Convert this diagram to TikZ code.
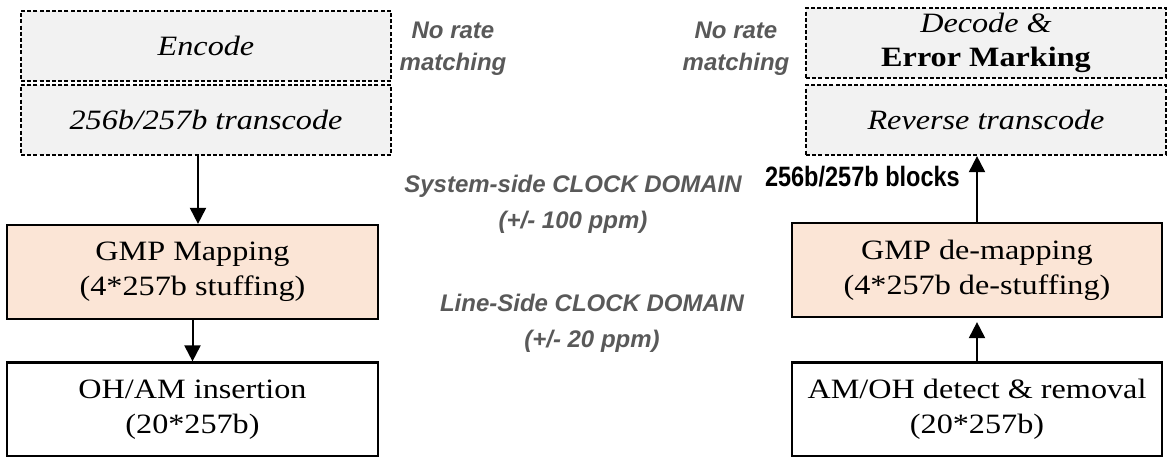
\documentclass[tikz,border=0pt]{standalone}
\usepackage{fontspec}
\setmainfont{Liberation Serif}[FakeStretch=1.15]
\newfontfamily\grayfont{Liberation Sans}
\newfontfamily\narrowfont{Liberation Sans}[FakeStretch=0.84]
\usetikzlibrary{arrows.meta}
\definecolor{boxgray}{RGB}{242,242,242}
\definecolor{peach}{RGB}{251,229,214}
\definecolor{txtgray}{RGB}{89,89,89}
\begin{document}
\begin{tikzpicture}[x=1pt,y=-1pt,
  dashbox/.style={draw=black, fill=boxgray, line width=2.2pt, dash pattern=on 4pt off 2.2pt, minimum width=370pt, minimum height=70pt, inner sep=0pt, align=center, font=\fontsize{28}{34}\selectfont\itshape},
  solidbox/.style={draw=black, line width=2.2pt, minimum width=371pt, minimum height=94pt, inner sep=0pt, align=center, font=\fontsize{28}{35}\selectfont},
  arr/.style={line width=2pt, -{Triangle[length=16pt,width=16pt]}},
  note/.style={text=txtgray, align=center, inner sep=0pt, font=\grayfont\bfseries\itshape\fontsize{24}{32}\selectfont}
]
\useasboundingbox (0,0) rectangle (1167,457);
% left column
\node[dashbox] (enc) at (206,46) {Encode};
\node[dashbox] (tr) at (206,120) {256b/257b transcode};
\node[solidbox, fill=peach] (gmp) at (192.5,272) {GMP Mapping\\(4*257b stuffing)};
\node[solidbox, fill=white] (oh) at (192.5,409.5) {OH/AM insertion\\(20*257b)};
% right column
\node[dashbox, minimum width=360pt] (dec) at (986,43) {Decode \&\\\textbf{\upshape Error Marking}};
\node[dashbox, minimum width=360pt] (rtr) at (986,120) {Reverse transcode};
\node[solidbox, minimum width=370pt, fill=peach] (gmpd) at (977,270) {GMP de-mapping\\(4*257b de-stuffing)};
\node[solidbox, minimum width=370pt, fill=white] (amoh) at (977,409.5) {AM/OH detect \& removal\\(20*257b)};
% arrows
\coordinate (a1) at ([xshift=-8pt]tr.south);
\draw[arr] (a1) -- (a1 |- gmp.north);
\draw[arr] (gmp.south) -- (oh.north);
\draw[arr, shorten >=4pt] (amoh.north) -- (gmpd.south);
\draw[arr] (gmpd.north) -- (gmpd.north |- rtr.south);
% labels
\node[anchor=east, inner sep=0pt, font=\narrowfont\bfseries\fontsize{28}{30}\selectfont] (lbl) at (960,177) {256b/257b blocks};
\node[note] (nr1) at (453,49) {No rate\\matching};
\node[note] (nr2) at (736,49) {No rate\\matching};
\node[note, font=\grayfont\bfseries\itshape\fontsize{24}{36}\selectfont] (sys) at (573,204) {System-side CLOCK DOMAIN\\(+/- 100 ppm)};
\node[note, font=\grayfont\bfseries\itshape\fontsize{24}{36}\selectfont] (line) at (592,323) {Line-Side CLOCK DOMAIN\\(+/- 20 ppm)};
\end{tikzpicture}
\end{document}
